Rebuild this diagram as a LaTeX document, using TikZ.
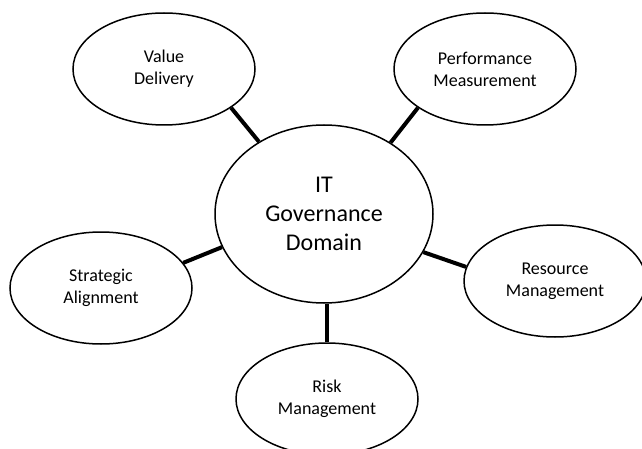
\documentclass[tikz,border=0pt]{standalone}
\usepackage{fontspec}
\setmainfont{Carlito}
\usetikzlibrary{shapes.geometric}
\begin{document}
\begin{tikzpicture}[x=1pt,y=-1pt]
\tikzstyle{every node}+=[inner sep=0pt]
\tikzstyle{area}=[draw=black, line width=1.5pt, ellipse, minimum width=182pt, minimum height=112pt, align=center, font=\fontsize{18}{22}\selectfont]
\tikzstyle{govbox}=[area, minimum width=218pt, minimum height=178pt, font=\fontsize{24}{29}\selectfont]
\tikzstyle{link}=[black, line width=4pt]
\useasboundingbox (0,0) rectangle (642,449);
\node [govbox] (gov) at (324,214) {IT\\Governance\\Domain};
\node [area] (value) at (164,69) {Value\\Delivery};
\node [area] (perf) at (485,69) {Performance\\Measurement};
\node [area] (strat) at (101,288) {Strategic\\Alignment};
\node [area] (res) at (555,281) {Resource\\Management};
\node [area] (risk) at (327,399) {Risk\\Management};
\draw [link] (value.-30) -- (gov.132);
\draw [link] (perf.210) -- (gov.47);
\draw [link] (strat.17) -- (gov.198);
\draw [link] (res.171) -- (gov.-21);
\draw [link] (risk.north) -- (risk.north |- gov.south);
\end{tikzpicture}
\end{document}
